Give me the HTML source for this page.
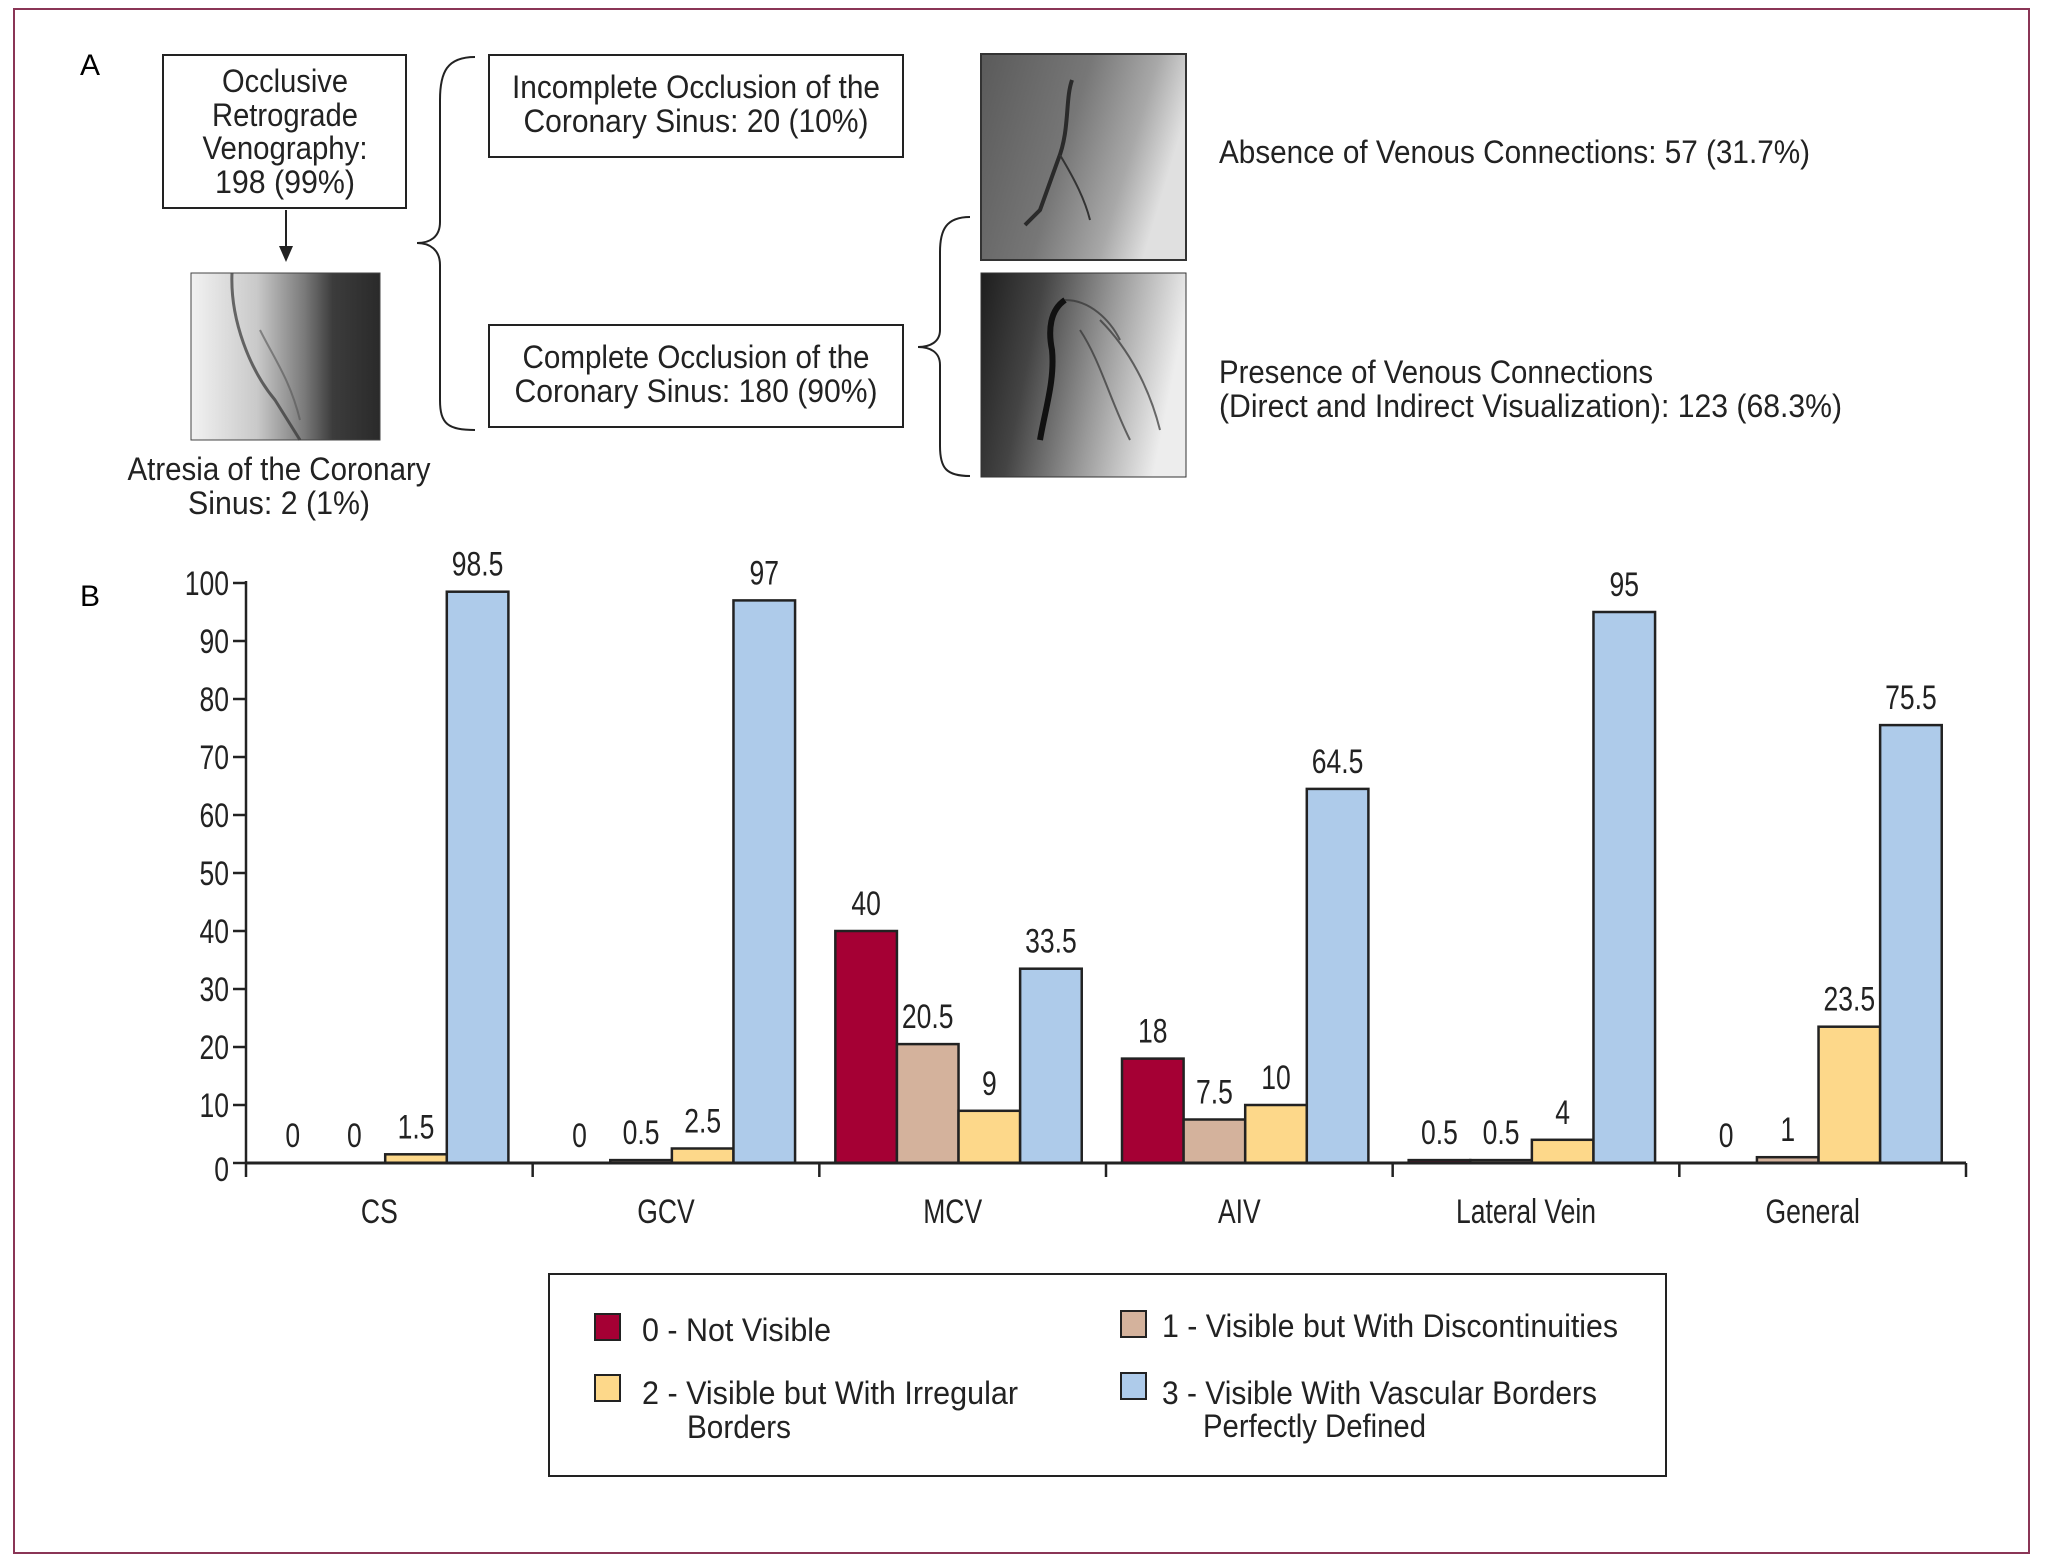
<!DOCTYPE html>
<html><head><meta charset="utf-8"><style>
html,body{margin:0;padding:0;background:#fff;}
svg{display:block;font-family:"Liberation Sans",sans-serif;}
</style></head><body>
<svg id="fig" width="2045" height="1562" viewBox="0 0 2045 1562" xmlns="http://www.w3.org/2000/svg">
<defs>
<linearGradient id="g1" x1="0" y1="0" x2="1" y2="0"><stop offset="0" stop-color="#f2f2f2"/><stop offset="0.35" stop-color="#c9c9c9"/><stop offset="0.6" stop-color="#7a7a7a"/><stop offset="0.75" stop-color="#3c3c3c"/><stop offset="1" stop-color="#2a2a2a"/></linearGradient>
<linearGradient id="g2" x1="0" y1="0" x2="1" y2="0.3"><stop offset="0" stop-color="#5a5a5a"/><stop offset="0.5" stop-color="#777"/><stop offset="0.8" stop-color="#a8a8a8"/><stop offset="1" stop-color="#e0e0e0"/></linearGradient>
<linearGradient id="g3" x1="0" y1="0" x2="1" y2="0.2"><stop offset="0" stop-color="#1e1e1e"/><stop offset="0.3" stop-color="#444"/><stop offset="0.65" stop-color="#9a9a9a"/><stop offset="1" stop-color="#ededed"/></linearGradient>
</defs>
<rect x="14" y="9" width="2015" height="1544" fill="none" stroke="#8a3556" stroke-width="2"/>
<text x="80" y="75" font-size="30">A</text>
<text x="80" y="606" font-size="30">B</text>

<g>
<rect x="163" y="55" width="243" height="153" fill="#fff" stroke="#222" stroke-width="2"/>
<g font-size="32" text-anchor="middle" fill="#222">
<text x="285" y="92" textLength="126" lengthAdjust="spacingAndGlyphs">Occlusive</text>
<text x="285" y="126" textLength="146" lengthAdjust="spacingAndGlyphs">Retrograde</text>
<text x="285" y="159" textLength="165" lengthAdjust="spacingAndGlyphs">Venography:</text>
<text x="285" y="193" textLength="140" lengthAdjust="spacingAndGlyphs">198 (99%)</text>
</g></g>
<line x1="286" y1="210" x2="286" y2="248" stroke="#222" stroke-width="2"/>
<polygon points="279,246 293,246 286,262" fill="#222"/>

<g>
<rect x="191" y="273" width="189" height="167" fill="url(#g1)"/>
<path d="M232,273 C230,320 250,370 275,400 L300,440" stroke="#333" stroke-width="3" fill="none" opacity="0.7"/>
<path d="M260,330 C275,360 290,380 300,420" stroke="#555" stroke-width="2" fill="none" opacity="0.6"/>
<rect x="191" y="273" width="189" height="167" fill="none" stroke="#444" stroke-width="1"/>
</g>
<g font-size="32" text-anchor="middle" fill="#222">
<text x="279" y="480" textLength="303" lengthAdjust="spacingAndGlyphs">Atresia of the Coronary</text>
<text x="279" y="514" textLength="182" lengthAdjust="spacingAndGlyphs">Sinus: 2 (1%)</text>
</g>

<path d="M475,57 C447,57 440,72 440,100 L440,222 C440,237 430,243 417,243 C430,243 440,250 440,265 L440,400 C440,424 448,430 475,430" fill="none" stroke="#222" stroke-width="2"/>

<g>
<rect x="489" y="55" width="414" height="102" fill="#fff" stroke="#222" stroke-width="2"/>
<g font-size="32" text-anchor="middle" fill="#222">
<text x="696" y="98" textLength="368" lengthAdjust="spacingAndGlyphs">Incomplete Occlusion of the</text>
<text x="696" y="132" textLength="345" lengthAdjust="spacingAndGlyphs">Coronary Sinus: 20 (10%)</text>
</g></g>
<g>
<rect x="489" y="325" width="414" height="102" fill="#fff" stroke="#222" stroke-width="2"/>
<g font-size="32" text-anchor="middle" fill="#222">
<text x="696" y="368" textLength="347" lengthAdjust="spacingAndGlyphs">Complete Occlusion of the</text>
<text x="696" y="402" textLength="363" lengthAdjust="spacingAndGlyphs">Coronary Sinus: 180 (90%)</text>
</g></g>

<path d="M970,217 C946,217 940,230 940,252 L940,330 C940,342 930,347 918,347 C930,347 940,352 940,365 L940,446 C940,468 946,476 970,476" fill="none" stroke="#222" stroke-width="2"/>

<g>
<rect x="981" y="54" width="205" height="206" fill="url(#g2)"/>
<path d="M1072,80 C1065,100 1070,130 1058,160 L1040,210 L1025,225" stroke="#2a2a2a" stroke-width="4" fill="none"/>
<path d="M1060,155 C1075,180 1085,200 1090,220" stroke="#333" stroke-width="2" fill="none"/>
<rect x="981" y="54" width="205" height="206" fill="none" stroke="#333" stroke-width="2"/>
</g>
<g>
<rect x="981" y="273" width="205" height="204" fill="url(#g3)"/>
<path d="M1065,300 C1050,310 1048,330 1052,350 C1055,380 1045,410 1040,440" stroke="#111" stroke-width="6" fill="none"/>
<path d="M1065,300 C1090,300 1110,320 1120,340 M1080,330 C1100,360 1110,400 1130,440 M1100,320 C1130,350 1150,390 1160,430" stroke="#333" stroke-width="2" fill="none" opacity="0.7"/>
<rect x="981" y="273" width="205" height="204" fill="none" stroke="#333" stroke-width="1"/>
</g>
<text x="1219" y="163" font-size="32" fill="#222" textLength="591" lengthAdjust="spacingAndGlyphs">Absence of Venous Connections: 57 (31.7%)</text>
<g font-size="32" fill="#222">
<text x="1219" y="383" textLength="434" lengthAdjust="spacingAndGlyphs">Presence of Venous Connections</text>
<text x="1219" y="417" textLength="623" lengthAdjust="spacingAndGlyphs">(Direct and Indirect Visualization): 123 (68.3%)</text>
</g>

<g id="chart"></g>

<g>
<rect x="549" y="1274" width="1117" height="202" fill="#fff" stroke="#222" stroke-width="2"/>
<g>
<rect x="595" y="1314" width="25" height="26" fill="#a50034" stroke="#222" stroke-width="2"/>
<text x="642" y="1341" font-size="32" fill="#222" textLength="189" lengthAdjust="spacingAndGlyphs">0 - Not Visible</text></g>
<g>
<rect x="1121" y="1311" width="25" height="26" fill="#d4b29c" stroke="#222" stroke-width="2"/>
<text x="1162" y="1337" font-size="32" fill="#222" textLength="456" lengthAdjust="spacingAndGlyphs">1 - Visible but With Discontinuities</text></g>
<g>
<rect x="595" y="1375" width="25" height="26" fill="#fdd88a" stroke="#222" stroke-width="2"/>
<text x="642" y="1404" font-size="32" fill="#222" textLength="376" lengthAdjust="spacingAndGlyphs">2 - Visible but With Irregular</text>
<text x="687" y="1438" font-size="32" fill="#222" textLength="104" lengthAdjust="spacingAndGlyphs">Borders</text></g>
<g>
<rect x="1121" y="1373" width="25" height="26" fill="#aecbea" stroke="#222" stroke-width="2"/>
<text x="1162" y="1404" font-size="32" fill="#222" textLength="435" lengthAdjust="spacingAndGlyphs">3 - Visible With Vascular Borders</text>
<text x="1203" y="1437" font-size="32" fill="#222" textLength="223" lengthAdjust="spacingAndGlyphs">Perfectly Defined</text></g>
</g>
</svg>
<script>
const categories = ["CS", "GCV", "MCV", "AIV", "Lateral Vein", "General"];
const notVisible = [0, 0, 40, 18, 0.5, 0];
const discontinuities = [0, 0.5, 20.5, 7.5, 0.5, 1];
const irregular = [1.5, 2.5, 9, 10, 4, 23.5];
const perfect = [98.5, 97, 33.5, 64.5, 95, 75.5];
const yTicks = [0, 10, 20, 30, 40, 50, 60, 70, 80, 90, 100];

const NS = "http://www.w3.org/2000/svg";
const chart = document.getElementById("chart");
const X0 = 246, X1 = 1966, Y0 = 1163, Y100 = 583;
const groupW = (X1 - X0) / categories.length;
const barW = 61.6, barOff = 16;
function y(v) { return Y0 - (v / 100) * (Y0 - Y100); }
function gx(i) { return X0 + i * groupW; }
function mk(tag, attrs) { const e = document.createElementNS(NS, tag); for (const k in attrs) e.setAttribute(k, attrs[k]); chart.appendChild(e); return e; }
function txt(s, x, yy, anchor, size) {
  const t = mk("text", { transform: "translate(" + x + "," + yy + ") scale(0.78,1)", "text-anchor": anchor, "font-size": size, fill: "#222" });
  t.textContent = s; return t;
}

const series = [
  { vals: notVisible, color: "#a50034", name: "not-visible" },
  { vals: discontinuities, color: "#d4b29c", name: "discontinuities" },
  { vals: irregular, color: "#fdd88a", name: "irregular" },
  { vals: perfect, color: "#aecbea", name: "perfect" }
];

// bars
series.forEach((s, si) => {
  s.vals.forEach((v, i) => {
    const bx = gx(i) + barOff + si * barW;
    if (v > 0) {
      const r = mk("rect", { x: bx, y: y(v), width: barW, height: Y0 - y(v), fill: s.color, stroke: "#222", "stroke-width": 2.5 });
      
      
    }
    const t = txt(String(v), bx + barW / 2, y(v) - 16, "middle", 34);
    
    
  });
});

// axes
const ya = mk("line", { x1: X0, y1: Y100 - 2, x2: X0, y2: Y0 + 14, stroke: "#222", "stroke-width": 2.5 });


const xa = mk("line", { x1: X0, y1: Y0, x2: X1, y2: Y0, stroke: "#222", "stroke-width": 3 });


yTicks.forEach(v => {
  const l = mk("line", { x1: X0 - 13, y1: y(v), x2: X0, y2: y(v), stroke: "#222", "stroke-width": 2.5 });
  
  
  const t = txt(String(v), X0 - 17, y(v) + 12 + (v === 0 ? 6 : 0), "end", 34);
  
  
});
for (let i = 1; i <= categories.length; i++) {
  const l = mk("line", { x1: gx(i), y1: Y0, x2: gx(i), y2: Y0 + 14, stroke: "#222", "stroke-width": 2.5 });
  
  
}
categories.forEach((c, i) => {
  const t = txt(c, gx(i) + groupW / 2 - 10, Y0 + 60, "middle", 34);
  
  
});
</script>
</body></html>
